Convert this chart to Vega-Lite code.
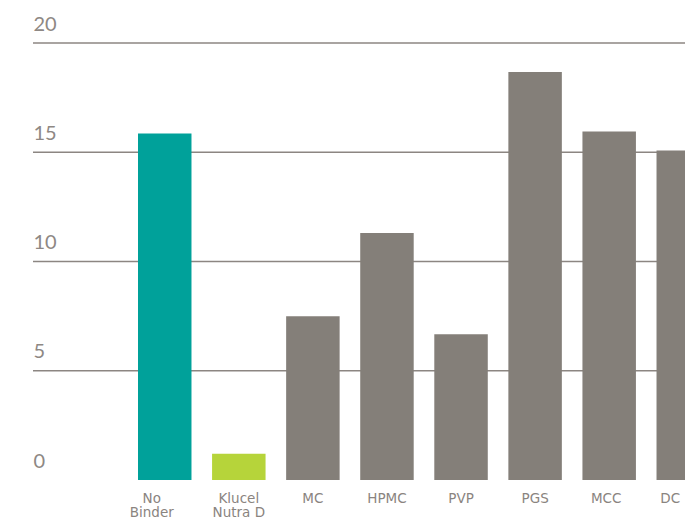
{
  "$schema": "https://vega.github.io/schema/vega-lite/v6.json",
  "autosize": {"type": "none"},
  "padding": {"left": 33, "top": 43, "right": 0, "bottom": 40},
  "width": 652,
  "height": 437,
  "background": "white",
  "config": {"view": {"stroke": null}, "font": "Lato"},
  "layer": [
    {
      "data": {"values": [{"level": 5}, {"level": 10}, {"level": 15}, {"level": 20}]},
      "mark": {"type": "rule", "color": "#8c8682", "strokeWidth": 1.5},
      "encoding": {"y": {"field": "level", "type": "quantitative"}}
    },
    {
      "data": {"values": [
        {"binder": "No Binder", "value": 15.86},
        {"binder": "Klucel Nutra D", "value": 1.2},
        {"binder": "MC", "value": 7.5},
        {"binder": "HPMC", "value": 11.3},
        {"binder": "PVP", "value": 6.67},
        {"binder": "PGS", "value": 18.67},
        {"binder": "MCC", "value": 15.95},
        {"binder": "DC", "value": 15.08}
      ]},
      "mark": {"type": "bar"},
      "encoding": {
        "x": {
          "field": "binder", "type": "nominal", "sort": null,
          "scale": {"range": [105, 677], "paddingInner": 0.278, "paddingOuter": 0},
          "axis": {
            "title": null, "domain": false, "ticks": false, "grid": false,
            "labelAngle": 0, "labelFont": "DejaVu Sans", "labelFontSize": 13.5, "labelColor": "#8a8480",
            "labelPadding": 11, "labelLineHeight": 14, "labelBaseline": "top",
            "labelOverlap": false, "labelBound": false,
            "labelOffset": {"condition": [
              {"test": "datum.value == 'No Binder'", "value": -13},
              {"test": "datum.value == 'MCC'", "value": -3},
              {"test": "datum.value == 'DC'", "value": -13}
            ], "value": 0},
            "labelExpr": "datum.label == 'No Binder' ? ['No', 'Binder'] : datum.label == 'Klucel Nutra D' ? ['Klucel', 'Nutra D'] : datum.label"
          }
        },
        "y": {
          "field": "value", "type": "quantitative",
          "scale": {"domain": [0, 20], "nice": false},
          "axis": {
            "title": null, "domain": false, "ticks": false, "grid": false, "values": [0, 5, 10, 15, 20],
            "labelAlign": "left", "labelBaseline": "alphabetic", "labelPadding": 0,
            "labelOffset": -13, "labelFontSize": 20, "labelColor": "#8e8884"
          }
        },
        "color": {
          "field": "binder", "type": "nominal", "legend": null,
          "scale": {
            "domain": ["No Binder", "Klucel Nutra D", "MC", "HPMC", "PVP", "PGS", "MCC", "DC"],
            "range": ["#00a19a", "#b6d43a", "#847f79", "#847f79", "#847f79", "#847f79", "#847f79", "#847f79"]
          }
        }
      }
    },
    {
      "mark": {"type": "rule", "color": "#7d7874", "strokeWidth": 3},
      "encoding": {"y": {"datum": 0}}
    }
  ]
}
